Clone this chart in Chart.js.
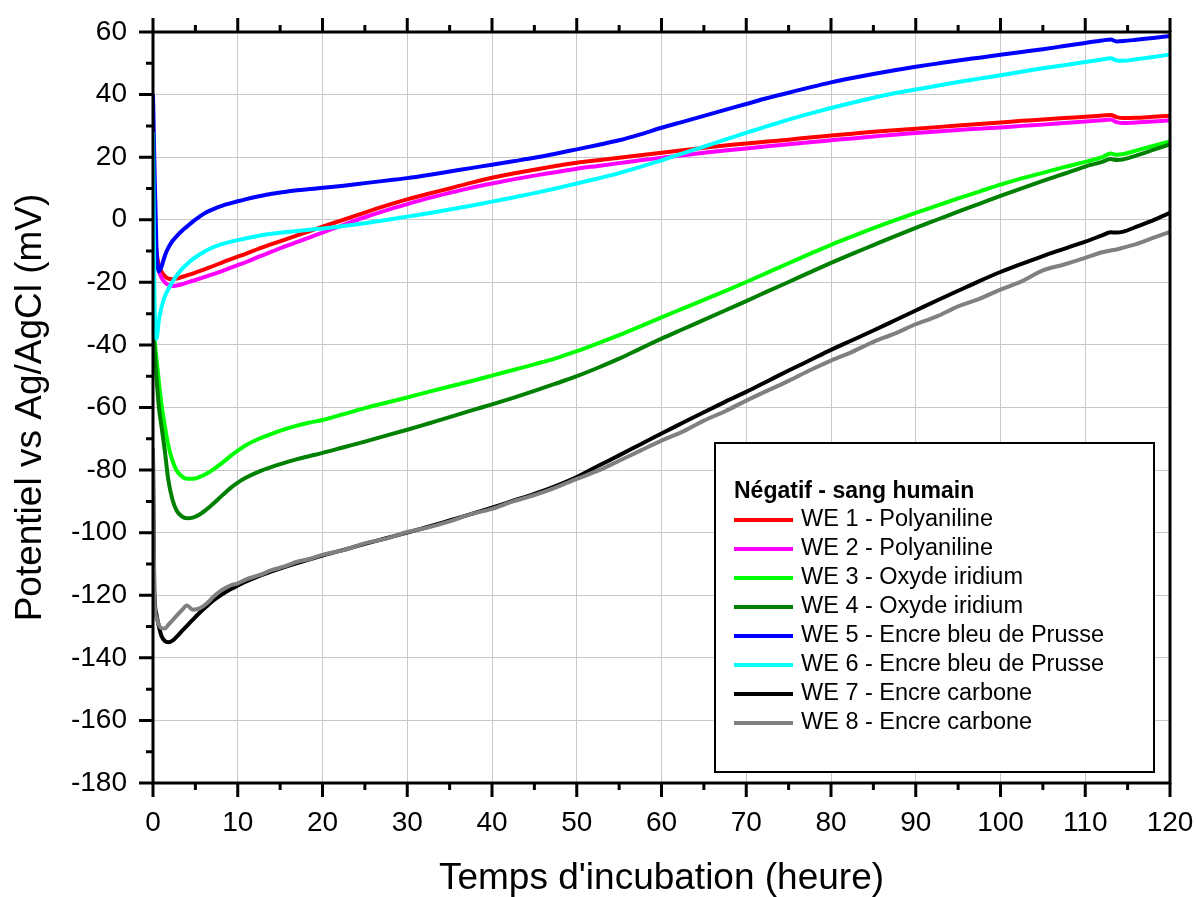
<!DOCTYPE html>
<html lang="fr">
<head>
    <meta charset="UTF-8">
    <title>Potentiel vs temps d'incubation</title>
    <script src="https://cdn.jsdelivr.net/npm/chart.js"></script>
    <style>
        html, body { margin: 0; padding: 0; background: #fff; }
        canvas { display: block; }
    </style>
</head>
<body>
    <canvas id="chart" width="1196" height="897"></canvas>
    <script>
        // temps (heure)
        const hours = [0, 0.15, 0.4, 0.7, 1, 1.4, 1.8, 2.3, 2.8, 3.4,
            4, 4.7, 5.5, 6.3, 7.2, 8.2, 9.2, 10, 11, 12.5,
            14, 15.5, 17, 18.5, 20, 22.5, 25, 27.5, 30, 32.5,
            35, 37.5, 40, 42.5, 45, 47.5, 50, 52.5, 55, 57.5,
            60, 62.5, 65, 67.5, 70, 72.5, 75, 77.5, 80, 82.5,
            85, 87.5, 90, 92.5, 95, 97.5, 100, 102.5, 105, 107.5,
            110, 112, 113, 113.7, 114.5, 116, 118, 120];

        // potentiel (mV) de chaque électrode
        const we1 = [25, 0, -10, -14.5, -16.5, -18, -18.8, -19, -18.8, -18.3,
            -17.8, -17.2, -16.4, -15.6, -14.7, -13.6, -12.6, -11.8, -10.8, -9.2,
            -7.8, -6.4, -5, -3.6, -2.2, 0, 2.3, 4.5, 6.5, 8.3,
            10, 11.8, 13.4, 14.8, 16, 17.2, 18.2, 19, 19.8, 20.6,
            21.4, 22.2, 23, 23.7, 24.4, 25, 25.6, 26.3, 26.9, 27.5,
            28.1, 28.6, 29.1, 29.6, 30.1, 30.6, 31.1, 31.6, 32, 32.5,
            32.9, 33.3, 33.5, 32.8, 32.5, 32.6, 32.9, 33.2];
        const we2 = [22, -2, -12, -16.5, -18.5, -20, -20.8, -21.2, -21, -20.6,
            -20.1, -19.5, -18.8, -18.1, -17.3, -16.3, -15.3, -14.5, -13.5, -11.8,
            -10.2, -8.6, -7.1, -5.6, -4.1, -1.6, 0.8, 3, 5, 6.9,
            8.6, 10.2, 11.6, 12.9, 14.1, 15.2, 16.3, 17.2, 18.1, 19,
            19.8, 20.6, 21.4, 22.1, 22.8, 23.5, 24.1, 24.8, 25.4, 26,
            26.6, 27.2, 27.7, 28.2, 28.7, 29.1, 29.5, 30, 30.4, 30.9,
            31.4, 31.8, 32, 31.2, 30.9, 31.1, 31.4, 31.8];
        const we3 = [-36, -38, -44, -52, -59, -66, -72, -77, -80.2, -82,
            -82.8, -82.8, -82.2, -81.2, -79.6, -77.6, -75.4, -73.8, -72, -70,
            -68.4, -67, -65.8, -64.8, -64, -62.1, -60.2, -58.5, -56.8, -55,
            -53.3, -51.6, -49.8, -48, -46.2, -44.3, -42, -39.5, -36.9, -34.1,
            -31.2, -28.4, -25.6, -22.8, -19.9, -16.9, -13.9, -10.9, -8, -5.3,
            -2.7, -0.2, 2.2, 4.5, 6.8, 9, 11.2, 13.2, 15, 16.8,
            18.5, 20, 21.2, 20.8, 21, 22.1, 23.6, 25];
        const we4 = [-36, -40, -50, -60, -66, -74, -83, -89.5, -93, -94.8,
            -95.4, -95.2, -94.2, -92.6, -90.5, -88, -85.6, -84, -82.4, -80.5,
            -79, -77.7, -76.5, -75.5, -74.5, -72.7, -70.9, -69, -67.1, -65.1,
            -63.1, -61, -59, -56.9, -54.7, -52.4, -50, -47.3, -44.4, -41.2,
            -38, -35, -32, -29, -26, -22.9, -19.9, -16.8, -13.8, -10.9,
            -8.1, -5.3, -2.6, 0, 2.6, 5.1, 7.6, 10, 12.4, 14.7,
            17, 18.5, 19.4, 19.1, 19.3, 20.5, 22.3, 24.1];
        const we5 = [40, 20, -8, -16.5, -15, -11.5, -9, -6.8, -5.2, -3.6,
            -2.2, -0.6, 1, 2.4, 3.5, 4.5, 5.3, 5.9, 6.6, 7.5,
            8.3, 8.9, 9.4, 9.8, 10.2, 10.9, 11.7, 12.5, 13.3, 14.3,
            15.4, 16.5, 17.6, 18.7, 19.8, 21.1, 22.5, 23.9, 25.4, 27.3,
            29.4, 31.3, 33.2, 35.1, 37, 38.9, 40.6, 42.3, 43.9, 45.3,
            46.6, 47.8, 48.9, 49.9, 50.9, 51.8, 52.7, 53.6, 54.5, 55.5,
            56.5, 57.3, 57.6, 57, 57.1, 57.5, 58.1, 58.7];
        const we6 = [28, -20, -38, -32, -28, -24.5, -22.2, -19.8, -17.8, -15.8,
            -14.2, -12.6, -11.1, -9.8, -8.7, -7.7, -7, -6.5, -5.9, -5.1,
            -4.5, -4, -3.6, -3.2, -2.8, -2, -1.1, -0.1, 1, 2.1,
            3.3, 4.5, 5.8, 7.1, 8.5, 10, 11.6, 13.2, 14.9, 16.9,
            19, 21.2, 23.4, 25.6, 27.8, 29.9, 32, 33.9, 35.7, 37.4,
            39, 40.4, 41.6, 42.8, 44, 45.1, 46.2, 47.3, 48.4, 49.4,
            50.4, 51.2, 51.6, 50.9, 50.8, 51.3, 52, 52.8];
        const we7 = [-75, -118, -126, -130, -133, -134.6, -135, -134.5, -133.2, -131.5,
            -129.8, -127.8, -125.6, -123.6, -121.5, -119.6, -118, -116.9, -115.6, -113.9,
            -112.4, -111, -109.7, -108.5, -107.3, -105.5, -103.6, -101.8, -100, -98.1,
            -96.1, -94.1, -92, -89.8, -87.6, -85.1, -82.2, -78.7, -75.3, -71.8,
            -68.3, -64.9, -61.5, -58.2, -55, -51.6, -48.2, -44.9, -41.6, -38.5,
            -35.4, -32.2, -29, -25.8, -22.7, -19.6, -16.7, -14.1, -11.6, -9.3,
            -7, -5, -4, -4.1, -3.8, -2.3, -0.2, 2.2];
        const we8 = [-73, -120, -127, -129.5, -130.5, -130.6, -129.5, -128, -126.5, -124.8,
            -123.3, -124.6, -124.2, -122.7, -120.3, -118.2, -116.8, -116.2, -114.9, -113.6,
            -112, -110.8, -109.3, -108.4, -107.1, -105.6, -103.4, -101.9, -99.8, -98.3,
            -96.4, -94.1, -92.4, -90, -88, -85.6, -82.8, -80.2, -77, -73.8,
            -70.6, -67.7, -64.2, -61.2, -57.8, -54.6, -51.5, -48.1, -45, -42.2,
            -39, -36.4, -33.4, -30.9, -27.7, -25.3, -22.3, -19.7, -16.2, -14.3,
            -12.2, -10.4, -9.8, -9.5, -8.9, -7.8, -5.8, -3.9];

        const seriesLabels = ['WE 1 - Polyaniline', 'WE 2 - Polyaniline',
            'WE 3 - Oxyde iridium', 'WE 4 - Oxyde iridium',
            'WE 5 - Encre bleu de Prusse', 'WE 6 - Encre bleu de Prusse',
            'WE 7 - Encre carbone', 'WE 8 - Encre carbone'];
        const seriesValues = [we1, we2, we3, we4, we5, we6, we7, we8];
        const legendTitle = 'Négatif - sang humain';

        const colors = ['#ff0000', '#ff00ff', '#00ff00', '#008000',
            '#0000ff', '#00ffff', '#000000', '#808080'];
        const FONT = "'Liberation Sans', Arial, sans-serif";

        // cadre noir + graduations (majeures et mineures) en bas, en haut et à gauche
        const frame = {
            id: 'frame',
            afterDraw(chart) {
                const { ctx, chartArea: a, scales: { x, y } } = chart;
                ctx.save();
                ctx.strokeStyle = '#000';
                ctx.lineWidth = 3;
                ctx.beginPath();
                for (let v = 0; v <= 120; v += 5) {
                    const px = x.getPixelForValue(v);
                    const len = v % 10 === 0 ? 14 : 7;
                    ctx.moveTo(px, a.bottom); ctx.lineTo(px, a.bottom + len);
                    ctx.moveTo(px, a.top); ctx.lineTo(px, a.top - len);
                }
                for (let v = -180; v <= 60; v += 10) {
                    const py = y.getPixelForValue(v);
                    const len = v % 20 === 0 ? 14 : 7;
                    ctx.moveTo(a.left, py); ctx.lineTo(a.left - len, py);
                }
                ctx.stroke();
                ctx.strokeRect(a.left, a.top, a.right - a.left, a.bottom - a.top);
                ctx.restore();
            }
        };

        // légende encadrée dans le coin bas droit
        const legendBox = {
            id: 'legendBox',
            afterDatasetsDraw(chart) {
                const { ctx, chartArea: a } = chart;
                const w = 439, h = 329;
                const left = a.right - 16 - w, top = a.bottom - 11 - h;
                ctx.save();
                ctx.fillStyle = '#fff';
                ctx.fillRect(left, top, w, h);
                ctx.strokeStyle = '#000';
                ctx.lineWidth = 2;
                ctx.strokeRect(left, top, w, h);

                ctx.fillStyle = '#000';
                ctx.textBaseline = 'middle';
                ctx.font = 'bold 23px ' + FONT;
                ctx.fillText(legendTitle, left + 19, top + 49);

                ctx.font = '23.5px ' + FONT;
                seriesLabels.forEach((lab, i) => {
                    const yy = top + 77 + i * 29;
                    ctx.strokeStyle = colors[i];
                    ctx.lineWidth = 4;
                    ctx.beginPath();
                    ctx.moveTo(left + 19, yy);
                    ctx.lineTo(left + 78, yy);
                    ctx.stroke();
                    ctx.fillText(lab, left + 86, yy);
                });
                ctx.restore();
            }
        };

        const datasets = seriesValues.map((vals, i) => ({
            label: seriesLabels[i],
            data: hours.map((h, j) => ({ x: h, y: vals[j] })),
            borderColor: colors[i],
            backgroundColor: colors[i],
            borderWidth: 4,
            pointRadius: 0,
            cubicInterpolationMode: 'monotone',
            order: seriesValues.length - i
        }));

        new Chart(document.getElementById('chart'), {
            type: 'line',
            data: { datasets: datasets },
            options: {
                responsive: false,
                animation: false,
                devicePixelRatio: 1,
                layout: { padding: { left: 0, top: 32, right: 26, bottom: 0 } },
                plugins: {
                    legend: { display: false },
                    tooltip: { enabled: false }
                },
                scales: {
                    x: {
                        type: 'linear',
                        min: 0,
                        max: 120,
                        ticks: {
                            stepSize: 10,
                            color: '#000',
                            padding: 23,
                            maxRotation: 0,
                            font: { family: FONT, size: 28 }
                        },
                        grid: { color: '#c8c8c8', lineWidth: 1, drawTicks: false },
                        border: { display: false },
                        title: {
                            display: true,
                            text: "Temps d'incubation (heure)",
                            color: '#000',
                            font: { family: FONT, size: 37, lineHeight: 1 },
                            padding: { top: 0, bottom: 0 }
                        },
                        afterFit(scale) {
                            scale.height = 114;
                            scale.paddingLeft = 0;
                            scale.paddingRight = 0;
                        }
                    },
                    y: {
                        type: 'linear',
                        min: -180,
                        max: 60,
                        ticks: {
                            stepSize: 20,
                            color: '#000',
                            padding: 26,
                            font: { family: FONT, size: 28 }
                        },
                        grid: { color: '#c8c8c8', lineWidth: 1, drawTicks: false },
                        border: { display: false },
                        title: {
                            display: true,
                            text: 'Potentiel vs Ag/AgCl (mV)',
                            color: '#000',
                            font: { family: FONT, size: 37, lineHeight: 1 },
                            padding: { top: 12, bottom: 0 }
                        },
                        afterFit(scale) {
                            scale.width = 153;
                            scale.paddingTop = 0;
                            scale.paddingBottom = 0;
                        }
                    }
                }
            },
            plugins: [legendBox, frame]
        });
    </script>
</body>
</html>
